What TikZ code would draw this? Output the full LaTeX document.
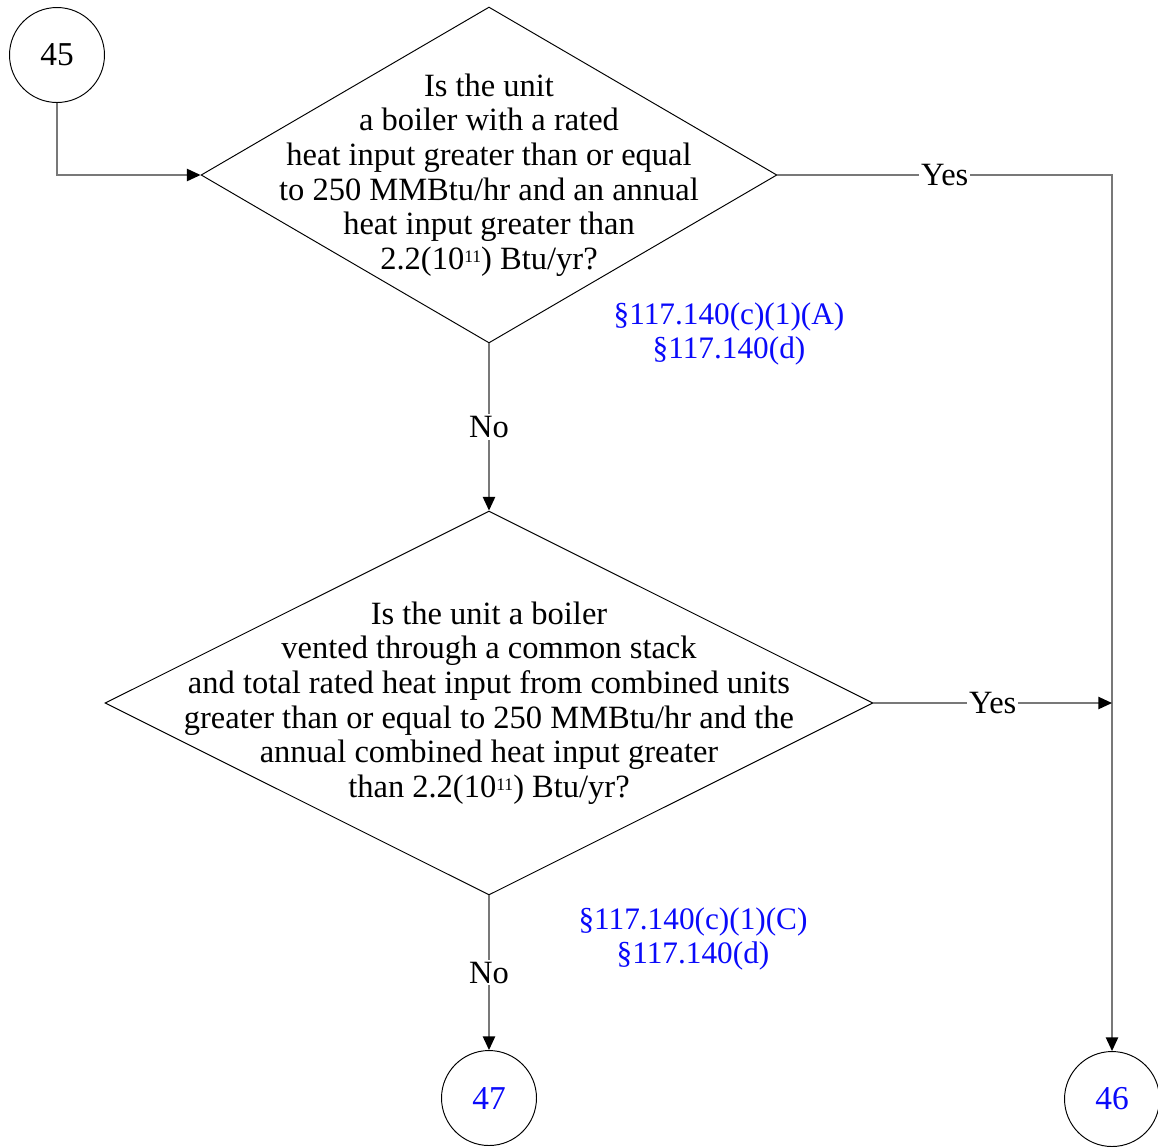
\documentclass[tikz,border=0pt]{standalone}
\usepackage{fontspec}
\setmainfont{Liberation Serif}
\usepackage{tikz}
\usetikzlibrary{positioning,shapes.geometric,arrows.meta,calc}

\definecolor{refblue}{RGB}{10,10,250}
\definecolor{flowgray}{RGB}{120,120,120}

\newcommand{\tenpow}{10\raisebox{0.45ex}{\fontsize{10}{10}\selectfont 11}}

\tikzset{
	decision/.style = {draw, diamond, inner sep = 0pt, line width = 0.55pt},
	question/.style = {align = center, inner sep = 0pt, font = \fontsize{18.5}{19.7}\selectfont},
	conn/.style = {draw, circle, minimum size = 1.9cm, inner sep = 0pt, line width = 0.55pt, font = \fontsize{19}{19.7}\selectfont},
	reftext/.style = {align = center, inner sep = 0pt, text = refblue, font = \fontsize{17.8}{19.7}\selectfont},
	answer/.style = {fill = white, inner sep = 1pt, font = \fontsize{18.5}{19.7}\selectfont},
	flow/.style = {draw = flowgray, line width = 0.9pt, -{Triangle[length = 7.8pt, width = 7pt, color = black]}}
}

\begin{document}
\begin{tikzpicture}[x = 0.02cm, y = -0.02cm]

\useasboundingbox (0, 0) rectangle (1158, 1147);

% connectors and decisions
\node[conn] (C45) at (57, 55) {45};

\node[decision, minimum width = 11.52cm, minimum height = 6.72cm] (Q1) at (489, 175) {};
\node[question] (Q1Text) at (Q1) {Is the unit\\a boiler with a rated\\heat input greater than or equal\\to 250 MMBtu/hr and an annual\\heat input greater than\\2.2(\tenpow) Btu/yr?};

\node[decision, minimum width = 15.36cm, minimum height = 7.68cm] (Q2) at (489, 703) {};
\node[question] (Q2Text) at (Q2) {Is the unit a boiler\\vented through a common stack\\and total rated heat input from combined units\\greater than or equal to 250 MMBtu/hr and the\\annual combined heat input greater\\than 2.2(\tenpow) Btu/yr?};

\node[conn, text = refblue] (C47) at (489, 1098) {47};
\node[conn, text = refblue] (C46) at (1112, 1099) {46};

\node[reftext] (Ref1) at (729, 334) {\S117.140(c)(1)(A)\\\S117.140(d)};
\node[reftext] (Ref2) at (693, 939) {\S117.140(c)(1)(C)\\\S117.140(d)};

\coordinate (Join) at (Q2.east -| C46);

% flow lines
\draw[flow] (C45) |- (Q1.west);
\draw[flow] (Q1.east) -- node[answer] {Yes} (Q1.east -| C46) -- (C46);
\draw[flow] (Q2.east) -- node[answer] {Yes} (Join);
\draw[flow] (Q1) -- node[answer] {No} (Q2);
\draw[flow] (Q2) -- node[answer] {No} (C47);

\end{tikzpicture}
\end{document}
